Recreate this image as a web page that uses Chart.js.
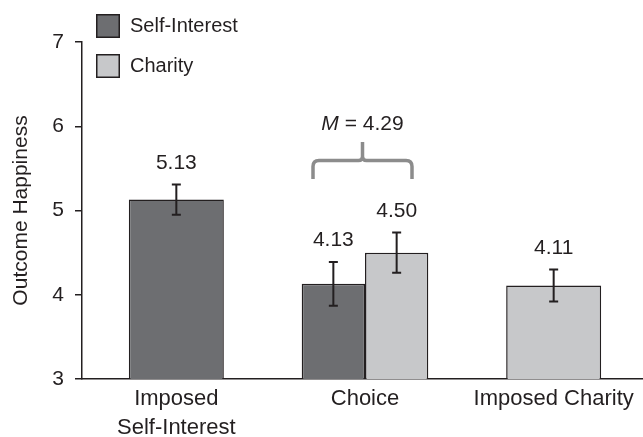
<!DOCTYPE html>
<html>
<head>
<meta charset="utf-8">
<script src="https://cdn.jsdelivr.net/npm/chart.js@4/dist/chart.umd.min.js"></script>
<style>
  html, body { margin: 0; padding: 0; background: #fff; width: 643px; height: 437px; overflow: hidden; }
  canvas { display: block; }
</style>
</head>
<body>
<canvas id="chart" width="648" height="437"></canvas>
<script>
// Outcome happiness by allocation condition
const categories = [['Imposed', 'Self-Interest'], 'Choice', 'Imposed Charity'];
const selfInterest = [5.13, 4.13, null];
const charity = [null, 4.50, 4.11];
const selfInterestErr = [0.18, 0.26, null];
const charityErr = [null, 0.24, 0.19];
const yTicks = [3, 4, 5, 6, 7];
const choiceMean = 4.29;

const INK = '#231f20';
const FONT = "'Liberation Sans', Arial, Helvetica, sans-serif";

const overlay = {
  id: 'overlay',
  afterDatasetsDraw(chart) {
    const ctx = chart.ctx;
    const y = chart.scales.y;
    const errs = [selfInterestErr, charityErr];

    // error bars and value labels
    chart.data.datasets.forEach((ds, di) => {
      const meta = chart.getDatasetMeta(di);
      meta.data.forEach((bar, i) => {
        const v = ds.data[i];
        if (v == null) return;
        const e = errs[di][i];
        const top = y.getPixelForValue(v + e);
        const bot = y.getPixelForValue(v - e);
        ctx.save();
        ctx.strokeStyle = INK;
        ctx.lineWidth = 2;
        ctx.beginPath();
        ctx.moveTo(bar.x, top); ctx.lineTo(bar.x, bot);
        ctx.moveTo(bar.x - 4.5, top); ctx.lineTo(bar.x + 4.5, top);
        ctx.moveTo(bar.x - 4.5, bot); ctx.lineTo(bar.x + 4.5, bot);
        ctx.stroke();
        ctx.fillStyle = INK;
        ctx.font = '21px ' + FONT;
        ctx.textAlign = 'center';
        ctx.textBaseline = 'alphabetic';
        ctx.fillText(v.toFixed(2), bar.x, top - 15.5);
        ctx.restore();
      });
    });

    // brace over the two Choice bars with their mean
    const a = chart.getDatasetMeta(0).data[1];
    const b = chart.getDatasetMeta(1).data[1];
    const left = a.x - a.width / 2, right = b.x + b.width / 2;
    const mid = (left + right) / 2 - 2.5;
    const half = 49.5;
    const labelBase = y.getPixelForValue(charity[1] + charityErr[1]) - 15.5;
    const bBottom = labelBase - 38;
    const bMid = bBottom - 18.5;
    const bTip = bMid - 18.5;
    const r = 6;
    ctx.save();
    ctx.strokeStyle = '#8c8c8c';
    ctx.lineWidth = 3.5;
    ctx.lineJoin = 'round';
    ctx.beginPath();
    ctx.moveTo(mid - half, bBottom);
    ctx.lineTo(mid - half, bMid + r);
    ctx.quadraticCurveTo(mid - half, bMid, mid - half + r, bMid);
    ctx.lineTo(mid - 4, bMid);
    ctx.quadraticCurveTo(mid, bMid, mid, bMid - 4);
    ctx.lineTo(mid, bTip);
    ctx.moveTo(mid, bMid - 4);
    ctx.quadraticCurveTo(mid, bMid, mid + 4, bMid);
    ctx.lineTo(mid + half - r, bMid);
    ctx.quadraticCurveTo(mid + half, bMid, mid + half, bMid + r);
    ctx.lineTo(mid + half, bBottom);
    ctx.stroke();

    // "M = 4.29" label, M in italics
    const base = bTip - 12;
    const fItal = 'italic 21px ' + FONT;
    const fReg = '21px ' + FONT;
    const partM = 'M', partRest = ' = ' + choiceMean.toFixed(2);
    ctx.font = fItal; const wM = ctx.measureText(partM).width;
    ctx.font = fReg; const wR = ctx.measureText(partRest).width;
    const x0 = mid - (wM + wR) / 2;
    ctx.fillStyle = INK;
    ctx.textAlign = 'left';
    ctx.textBaseline = 'alphabetic';
    ctx.font = fItal; ctx.fillText(partM, x0, base);
    ctx.font = fReg; ctx.fillText(partRest, x0 + wM, base);
    ctx.restore();

    // legend
    ctx.save();
    chart.data.datasets.forEach((ds, di) => {
      const top = 14 + di * 40;
      ctx.fillStyle = ds.backgroundColor;
      ctx.fillRect(96, top, 24, 24);
      ctx.strokeStyle = INK;
      ctx.lineWidth = 1.5;
      ctx.strokeRect(96.75, top + 0.75, 22.5, 22.5);
      ctx.fillStyle = INK;
      ctx.font = '20px ' + FONT;
      ctx.textAlign = 'left';
      ctx.textBaseline = 'middle';
      ctx.fillText(ds.label, 130, top + 12);
    });
    ctx.restore();
  }
};

new Chart(document.getElementById('chart'), {
  type: 'bar',
  data: {
    labels: categories,
    datasets: [
      { label: 'Self-Interest', data: selfInterest, backgroundColor: '#6d6e71', borderColor: INK, borderWidth: 1.5 },
      { label: 'Charity', data: charity, backgroundColor: '#c7c8ca', borderColor: INK, borderWidth: 1.5 }
    ]
  },
  options: {
    responsive: false,
    animation: false,
    devicePixelRatio: 1,
    skipNull: true,
    categoryPercentage: 0.671,
    barPercentage: 1,
    maxBarThickness: 95,
    layout: { padding: { top: 42, left: 0, right: 0, bottom: 0 } },
    plugins: { legend: { display: false }, tooltip: { enabled: false } },
    scales: {
      x: {
        grid: { display: false, drawTicks: false },
        border: { display: true, color: INK, width: 1.5 },
        ticks: { color: INK, font: { family: FONT, size: 22, lineHeight: 1.3 }, padding: 6, maxRotation: 0, autoSkip: false },
        afterFit(scale) { scale.height = 58; }
      },
      y: {
        min: 3, max: 7,
        afterBuildTicks(scale) { scale.ticks = yTicks.map(v => ({ value: v })); },
        grid: { drawOnChartArea: false, drawTicks: true, tickLength: 7, color: INK, lineWidth: 1.5 },
        border: { display: true, color: INK, width: 1.5 },
        ticks: { color: INK, font: { family: FONT, size: 21 }, padding: 11 },
        title: { display: true, text: 'Outcome Happiness', color: INK, font: { family: FONT, size: 21 }, padding: { top: 9, bottom: 0 } },
        afterFit(scale) { scale.width = 82; }
      }
    }
  },
  plugins: [overlay]
});
</script>
</body>
</html>
